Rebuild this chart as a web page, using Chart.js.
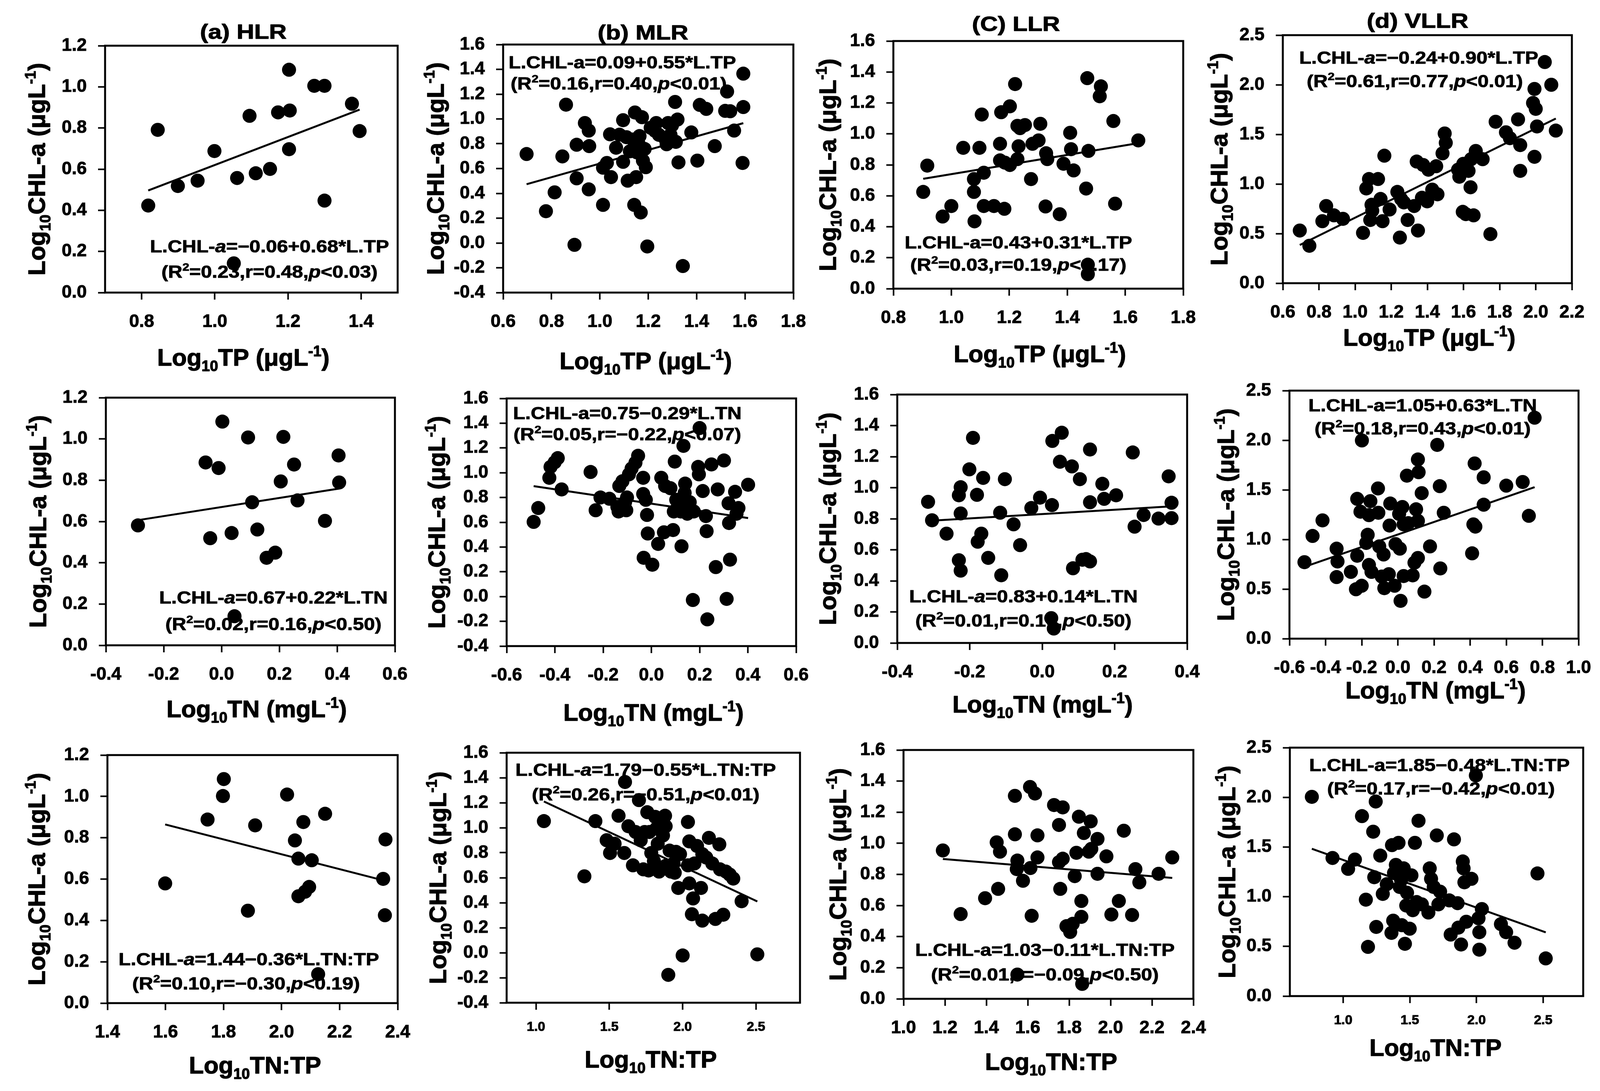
<!DOCTYPE html>
<html>
<head>
<meta charset="utf-8">
<script src="https://cdn.jsdelivr.net/npm/chart.js@4.4.1/dist/chart.umd.min.js"></script>
<style>
  html, body { margin: 0; padding: 0; background: #fff; overflow: hidden; }
  #page { position: relative; width: 4113px; height: 2793px; overflow: hidden; background: #fff; }
  #page canvas { position: absolute; }
</style>
</head>
<body>
<div id="page"></div>
<script>
// ---- data: [log10 x, log10 CHL-a] per lake group ----
const hlrTP = [[0.818,0.423],[0.844,0.791],[0.899,0.518],[0.953,0.544],[0.999,0.688],[1.061,0.557],[1.095,0.859],[1.112,0.580],[1.151,0.601],[1.173,0.876],[1.205,0.885],[1.203,1.083],[1.203,0.697],[1.272,1.005],[1.300,1.005],[1.300,0.447],[1.375,0.918],[1.396,0.785],[1.052,0.142]];
const mlrTP = [[0.697,0.717],[0.777,0.256],[0.813,0.408],[0.845,0.698],[0.860,1.115],[0.895,-0.015],[0.904,0.521],[0.904,0.792],[0.938,0.967],[0.954,0.906],[0.956,0.781],[0.954,0.432],[1.013,0.307],[1.013,0.607],[1.029,0.645],[1.042,0.876],[1.046,0.531],[1.067,0.768],[1.081,0.873],[1.096,0.990],[1.096,0.654],[1.110,0.853],[1.115,0.502],[1.124,0.739],[1.137,0.834],[1.142,0.307],[1.145,1.052],[1.150,0.531],[1.153,0.730],[1.158,0.815],[1.164,0.862],[1.169,0.246],[1.174,1.014],[1.178,0.664],[1.185,0.758],[1.190,0.611],[1.196,-0.028],[1.210,0.929],[1.228,0.904],[1.233,0.967],[1.244,0.872],[1.271,0.838],[1.276,0.796],[1.282,0.967],[1.292,0.872],[1.311,1.137],[1.314,0.815],[1.321,0.995],[1.325,0.650],[1.343,-0.186],[1.378,0.891],[1.403,0.664],[1.413,1.113],[1.440,1.081],[1.475,0.781],[1.518,1.065],[1.526,1.221],[1.539,1.062],[1.555,0.906],[1.593,1.365],[1.593,1.096],[1.590,0.645],[1.298,0.948]];
const llrTP = [[0.903,0.625],[0.917,0.795],[0.970,0.466],[1.000,0.534],[1.041,0.910],[1.078,0.708],[1.078,0.625],[1.080,0.435],[1.097,0.910],[1.105,1.125],[1.112,0.749],[1.112,0.534],[1.147,0.534],[1.168,0.936],[1.172,1.140],[1.183,0.516],[1.168,0.829],[1.185,0.814],[1.202,1.178],[1.202,0.799],[1.220,1.322],[1.228,1.052],[1.228,0.837],[1.232,0.920],[1.237,1.037],[1.254,1.057],[1.275,0.708],[1.280,0.936],[1.301,0.958],[1.307,1.065],[1.325,0.531],[1.327,0.875],[1.331,0.837],[1.374,0.481],[1.387,0.807],[1.410,1.007],[1.413,0.901],[1.422,0.764],[1.465,0.647],[1.469,1.360],[1.471,0.155],[1.471,0.094],[1.473,0.890],[1.516,1.307],[1.512,1.243],[1.559,1.083],[1.565,0.549],[1.645,0.958]];
const vllrTP = [[0.694,0.531],[0.747,0.377],[0.819,0.625],[0.840,0.778],[0.883,0.684],[0.933,0.649],[1.044,0.507],[1.062,0.955],[1.077,1.050],[1.084,0.637],[1.091,0.790],[1.095,0.731],[1.127,1.050],[1.141,0.849],[1.152,0.625],[1.162,1.285],[1.191,0.743],[1.234,0.920],[1.248,0.460],[1.255,0.849],[1.270,0.814],[1.291,0.637],[1.327,0.778],[1.341,1.226],[1.348,0.531],[1.370,0.861],[1.377,1.191],[1.399,0.825],[1.406,1.144],[1.427,0.943],[1.449,1.179],[1.456,0.896],[1.484,1.309],[1.496,1.509],[1.502,1.415],[1.570,1.144],[1.577,1.073],[1.596,0.719],[1.599,1.203],[1.613,0.696],[1.628,1.132],[1.639,0.967],[1.642,1.250],[1.656,0.684],[1.668,1.333],[1.706,1.250],[1.749,0.495],[1.778,1.627],[1.835,1.521],[1.857,1.462],[1.902,1.651],[1.914,1.392],[1.914,1.132],[1.993,1.274],[1.993,1.958],[1.985,1.816],[2.000,1.757],[2.007,1.580],[2.050,2.229],[2.086,2.000],[2.111,1.538]];

const hlrTN = [[-0.289,0.581],[-0.055,0.886],[-0.039,0.519],[-0.010,0.859],[0.003,1.084],[0.035,0.544],[0.045,0.141],[0.092,1.007],[0.106,0.693],[0.124,0.561],[0.156,0.424],[0.186,0.449],[0.205,0.794],[0.214,1.010],[0.251,0.876],[0.263,0.702],[0.358,0.603],[0.405,0.920],[0.407,0.789]];
const mlrTN = [[-0.488,0.603],[-0.469,0.715],[-0.423,0.959],[-0.418,1.047],[-0.401,1.084],[-0.388,1.118],[-0.372,0.865],[-0.252,1.006],[-0.231,0.697],[-0.211,0.800],[-0.174,0.790],[-0.141,0.725],[-0.136,0.687],[-0.133,0.893],[-0.120,0.931],[-0.109,0.762],[-0.104,0.697],[-0.101,0.800],[-0.093,0.987],[-0.082,1.034],[-0.066,1.081],[-0.055,1.137],[-0.034,0.959],[-0.034,0.828],[-0.023,0.781],[-0.032,0.313],[-0.018,0.659],[-0.015,0.509],[0.004,0.257],[0.028,0.425],[0.041,0.959],[0.052,0.519],[0.057,0.893],[0.079,0.875],[0.090,0.537],[0.093,0.687],[0.097,1.090],[0.103,0.781],[0.111,0.743],[0.122,0.687],[0.125,0.406],[0.133,1.217],[0.138,0.837],[0.140,0.912],[0.149,0.669],[0.159,0.762],[0.172,-0.028],[0.176,0.687],[0.194,1.047],[0.197,0.987],[0.200,1.361],[0.213,0.852],[0.226,0.650],[0.229,0.528],[0.232,-0.184],[0.249,1.067],[0.267,0.238],[0.275,0.865],[0.301,1.099],[0.312,-0.019],[0.320,0.753],[0.322,0.594],[0.326,0.298],[0.347,0.846],[0.361,0.715],[0.353,0.669],[0.401,0.903]];
const llrTN = [[-0.315,0.909],[-0.304,0.790],[-0.264,0.704],[-0.230,0.951],[-0.225,1.003],[-0.230,0.533],[-0.225,0.466],[-0.225,0.834],[-0.201,1.118],[-0.191,1.321],[-0.180,0.954],[-0.178,0.652],[-0.168,0.704],[-0.163,1.063],[-0.149,0.548],[-0.116,0.839],[-0.113,0.436],[-0.103,1.055],[-0.079,0.764],[-0.061,0.630],[-0.030,0.869],[-0.006,0.936],[0.027,0.888],[0.028,1.301],[0.054,1.354],[0.049,1.167],[0.082,1.137],[0.085,0.481],[0.104,1.055],[0.111,0.536],[0.121,0.540],[0.132,0.525],[0.132,0.906],[0.132,1.246],[0.166,1.025],[0.171,0.928],[0.204,0.951],[0.250,1.227],[0.255,0.749],[0.280,0.824],[0.321,0.801],[0.349,1.073],[0.357,0.903],[0.357,0.804],[0.025,0.160],[0.032,0.093]];
const vllrTN = [[-0.517,0.771],[-0.472,1.035],[-0.417,1.192],[-0.339,0.907],[-0.334,0.778],[-0.339,0.621],[-0.260,0.673],[-0.232,0.498],[-0.225,1.409],[-0.225,0.836],[-0.200,0.533],[-0.207,1.280],[-0.152,1.386],[-0.175,0.965],[-0.167,1.047],[-0.160,1.245],[-0.160,0.743],[-0.146,0.673],[-0.110,1.514],[-0.108,1.269],[-0.103,0.930],[-0.089,0.626],[-0.079,0.848],[-0.075,0.509],[-0.050,0.650],[-0.046,1.140],[-0.042,1.362],[-0.018,0.533],[-0.013,0.953],[0.007,1.257],[0.011,0.907],[0.015,0.381],[0.025,1.327],[0.032,1.152],[0.032,0.631],[0.050,1.643],[0.058,1.164],[0.082,0.638],[0.092,0.766],[0.101,1.304],[0.111,1.187],[0.111,1.806],[0.115,1.678],[0.111,0.813],[0.132,1.467],[0.147,0.474],[0.178,0.930],[0.218,1.953],[0.232,1.537],[0.235,0.708],[0.254,1.269],[0.411,0.860],[0.418,1.152],[0.429,1.129],[0.425,1.766],[0.475,1.350],[0.475,1.626],[0.600,1.542],[0.691,1.579],[0.725,1.238],[0.757,2.227],[-0.199,1.998]];

const hlrNP = [[1.599,0.579],[1.745,0.888],[1.801,1.084],[1.798,1.002],[1.884,0.447],[1.909,0.860],[2.019,1.009],[2.046,0.787],[2.058,0.699],[2.058,0.517],[2.075,0.876],[2.081,0.539],[2.095,0.562],[2.104,0.691],[2.126,0.140],[2.150,0.916],[2.350,0.601],[2.356,0.425],[2.358,0.792]];
const mlrNP = [[1.054,1.053],[1.330,0.611],[1.405,1.053],[1.482,0.900],[1.505,0.798],[1.536,0.872],[1.563,1.096],[1.602,0.798],[1.607,1.366],[1.630,1.012],[1.661,0.699],[1.679,0.966],[1.702,1.221],[1.714,0.900],[1.732,0.667],[1.759,1.124],[1.768,0.658],[1.773,0.966],[1.786,0.798],[1.804,0.733],[1.813,1.087],[1.821,0.994],[1.830,0.872],[1.839,0.649],[1.848,1.012],[1.866,0.938],[1.880,1.096],[1.884,0.695],[1.884,1.012],[1.902,-0.177],[1.911,0.817],[1.920,0.649],[1.938,0.714],[1.955,0.807],[1.970,0.518],[1.982,0.789],[2.000,-0.022],[2.036,0.699],[2.036,1.046],[2.045,0.555],[2.045,0.891],[2.063,0.308],[2.071,0.434],[2.080,0.714],[2.098,0.854],[2.125,0.518],[2.134,0.257],[2.134,0.789],[2.161,0.761],[2.179,0.919],[2.202,0.714],[2.223,0.270],[2.250,0.867],[2.255,0.667],[2.277,0.304],[2.295,0.649],[2.321,0.625],[2.345,0.593],[2.402,0.412],[2.509,-0.013],[1.741,0.966],[1.946,0.640]];
const llrNP = [[1.190,0.954],[1.276,0.545],[1.394,0.647],[1.450,1.006],[1.466,0.946],[1.457,0.707],[1.538,1.305],[1.538,1.058],[1.550,0.889],[1.547,0.834],[1.577,0.759],[1.611,1.362],[1.635,1.320],[1.613,0.841],[1.619,0.534],[1.647,1.051],[1.647,0.909],[1.727,1.246],[1.751,1.118],[1.769,1.231],[1.757,0.707],[1.751,0.879],[1.769,0.901],[1.787,0.467],[1.805,0.430],[1.817,0.482],[1.827,0.789],[1.835,0.939],[1.847,1.171],[1.859,0.527],[1.859,0.629],[1.863,0.096],[1.871,1.066],[1.895,0.946],[1.904,1.141],[1.907,0.964],[1.937,0.804],[1.937,1.028],[1.980,0.916],[2.004,0.542],[2.040,0.629],[2.064,1.081],[2.104,0.539],[2.120,0.834],[2.139,0.749],[2.232,0.804],[2.298,0.909],[1.550,0.156]];
const vllrNP = [[0.765,2.005],[0.920,1.390],[1.037,1.280],[1.088,1.374],[1.141,1.811],[1.170,0.970],[1.186,0.495],[1.225,1.654],[1.233,1.196],[1.248,0.696],[1.244,1.958],[1.278,1.414],[1.327,1.126],[1.366,1.519],[1.362,0.636],[1.375,0.759],[1.381,1.238],[1.395,1.320],[1.415,1.542],[1.424,1.098],[1.434,1.168],[1.440,0.713],[1.454,1.285],[1.463,0.526],[1.473,0.911],[1.479,1.040],[1.499,0.678],[1.512,1.215],[1.522,0.864],[1.538,1.542],[1.551,0.946],[1.565,1.764],[1.639,0.841],[1.649,1.285],[1.659,1.180],[1.679,1.098],[1.702,1.617],[1.714,0.923],[1.727,1.051],[1.796,0.963],[1.806,0.619],[1.831,1.577],[1.858,0.935],[1.864,0.689],[1.884,0.519],[1.897,1.355],[1.903,1.285],[1.909,1.145],[1.923,0.748],[1.962,1.180],[1.995,2.220],[2.015,0.783],[2.021,0.643],[2.021,0.467],[2.040,0.876],[2.183,0.724],[2.222,0.643],[2.285,0.537],[2.457,1.234],[2.519,0.379],[1.297,1.028],[1.590,0.923]];

// regression: L.CHL-a = fitA + fitB * x
const fitA = [-0.06, 0.09, 0.43, -0.24, 0.67, 0.75, 0.83, 1.05, 1.44, 1.79, 1.03, 1.85];
const fitB = [0.68, 0.55, 0.31, 0.90, 0.22, -0.29, 0.14, 0.63, -0.36, -0.55, -0.11, -0.48];

const eqText = [
  ['L.CHL-~{a}=−0.06+0.68*L.TP', '(R^{2}=0.23,r=0.48,~{p}<0.03)'],
  ['L.CHL-a=0.09+0.55*L.TP', '(R^{2}=0.16,r=0.40,~{p}<0.01)'],
  ['L.CHL-a=0.43+0.31*L.TP', '(R^{2}=0.03,r=0.19,~{p}<0.17)'],
  ['L.CHL-~{a}=−0.24+0.90*L.TP', '(R^{2}=0.61,r=0.77,~{p}<0.01)'],
  ['L.CHL-~{a}=0.67+0.22*L.TN', '(R^{2}=0.02,r=0.16,~{p}<0.50)'],
  ['L.CHL-a=0.75−0.29*L.TN', '(R^{2}=0.05,r=−0.22,~{p}<0.07)'],
  ['L.CHL-~{a}=0.83+0.14*L.TN', '(R^{2}=0.01,r=0.10,~{p}<0.50)'],
  ['L.CHL-a=1.05+0.63*L.TN', '(R^{2}=0.18,r=0.43,~{p}<0.01)'],
  ['L.CHL-~{a}=1.44−0.36*L.TN:TP', '(R^{2}=0.10,r=−0.30,~{p}<0.19)'],
  ['L.CHL-~{a}=1.79−0.55*L.TN:TP', '(R^{2}=0.26,r=−0.51,~{p}<0.01)'],
  ['L.CHL-a=1.03−0.11*L.TN:TP', '(R^{2}=0.01,r=−0.09,~{p}<0.50)'],
  ['L.CHL-a=1.85−0.48*L.TN:TP', '(R^{2}=0.17,r=−0.42,~{p}<0.01)']
];

const colTitles = ['(a) HLR', '(b) MLR', '(C) LLR', '(d) VLLR'];
const yTitle = 'Log_{10}CHL-a (μgL^{-1})';
const rowXTitles = ['Log_{10}TP (μgL^{-1})', 'Log_{10}TN (mgL^{-1})', 'Log_{10}TN:TP'];

// axes
const xRanges = [[0.7,1.5],[0.6,1.8],[0.8,1.8],[0.6,2.2],[-0.4,0.6],[-0.6,0.6],[-0.4,0.4],[-0.6,1.0],[1.4,2.4],[0.8,2.8],[1.0,2.4],[0.6,2.8]];
const yRanges = [[0,1.2],[-0.4,1.6],[0,1.6],[0,2.5],[0,1.2],[-0.4,1.6],[0,1.6],[0,2.5],[0,1.2],[-0.4,1.6],[0,1.6],[0,2.5]];
const xTicks = [
  [0.8,1.0,1.2,1.4],
  [0.6,0.8,1.0,1.2,1.4,1.6,1.8],
  [0.8,1.0,1.2,1.4,1.6,1.8],
  [0.6,0.8,1.0,1.2,1.4,1.6,1.8,2.0,2.2],
  [-0.4,-0.2,0.0,0.2,0.4,0.6],
  [-0.6,-0.4,-0.2,0.0,0.2,0.4,0.6],
  [-0.4,-0.2,0.0,0.2,0.4],
  [-0.6,-0.4,-0.2,0.0,0.2,0.4,0.6,0.8,1.0],
  [1.4,1.6,1.8,2.0,2.2,2.4],
  [1.0,1.5,2.0,2.5],
  [1.0,1.2,1.4,1.6,1.8,2.0,2.2,2.4],
  [1.0,1.5,2.0,2.5]
];
const yTicksA = [0.0,0.2,0.4,0.6,0.8,1.0,1.2];
const yTicksB = [-0.4,-0.2,0.0,0.2,0.4,0.6,0.8,1.0,1.2,1.4,1.6];
const yTicksC = [0.0,0.2,0.4,0.6,0.8,1.0,1.2,1.4,1.6];
const yTicksD = [0.0,0.5,1.0,1.5,2.0,2.5];
const yTicks = [yTicksA, yTicksB, yTicksC, yTicksD, yTicksA, yTicksB, yTicksC, yTicksD, yTicksA, yTicksB, yTicksC, yTicksD];

// ---- layout (page pixels) ----
const frames = [
  [269,117,1018,749],[1288,114,2038,749],[2287,105,3036,739],[3284,90,4031,725],
  [271,1018,1018,1652],[1297,1020,2045,1654],[2297,1010,3046,1646],[3301,1000,4048,1635],
  [275,1933,1025,2568],[1297,1927,2048,2567],[2313,1920,3062,2557],[3302,1914,4053,2550]
];
const titlePos = [[623,80],[1646,82],[2601,60],[3629,52]];
const yTitleX = [93,1114,2118,3120,96,1117,2118,3137,93,1120,2144,3140];
const xTitlePos = [[623,914],[1653,923],[2662,905],[3659,863],[657,1814],[1673,1823],[2669,1802],[3675,1766],[653,2726],[1666,2711],[2691,2717],[3675,2681]];
const eqPos = [
  [[690,630],[690,695]], [[1593,159],[1584,213]], [[2607,620],[2607,677]], [[3632,147],[3622,207]],
  [[700,1529],[700,1597]], [[1606,1057],[1606,1111]], [[2620,1526],[2620,1588]], [[3642,1037],[3642,1096]],
  [[637,2455],[630,2517]], [[1653,1970],[1653,2033]], [[2675,2431],[2675,2494]], [[3685,1958],[3689,2018]]
];
const xTickSize = [46,46,46,46,46,46,46,46,46,34,46,34];
const xTickPad = [30,30,30,30,30,30,30,30,30,24,30,24];

const series = [hlrTP, mlrTP, llrTP, vllrTP, hlrTN, mlrTN, llrTN, vllrTN, hlrNP, mlrNP, llrNP, vllrNP];

const FONT = '"Liberation Sans", Arial, sans-serif';
const ML = 260, MT = 150, MR = 55, MB = 250;

function parseRich(str) {
  const segs = [];
  let buf = '';
  for (let i = 0; i < str.length; i++) {
    const c = str[i];
    if ('_^~'.includes(c) && str[i + 1] === '{') {
      if (buf) { segs.push({ t: buf, k: '' }); buf = ''; }
      const end = str.indexOf('}', i);
      segs.push({ t: str.slice(i + 2, end), k: c });
      i = end;
    } else {
      buf += c;
    }
  }
  if (buf) segs.push({ t: buf, k: '' });
  return segs;
}

// text with sub/superscripts, centred on (x, y)
function drawRich(ctx, str, x, y, size, sx, rot) {
  const segs = parseRich(str);
  const fontOf = s => {
    const small = s.k === '_' || s.k === '^';
    return (s.k === '~' ? 'italic ' : '') + 'bold ' + Math.round(small ? size * 0.62 : size) + 'px ' + FONT;
  };
  ctx.save();
  let total = 0;
  segs.forEach(s => { ctx.font = fontOf(s); s.w = ctx.measureText(s.t).width; total += s.w; });
  ctx.translate(x, y);
  if (rot) ctx.rotate(-Math.PI / 2);
  ctx.scale(sx, 1);
  ctx.fillStyle = '#000';
  ctx.strokeStyle = '#000';
  ctx.lineWidth = size * 0.025;
  ctx.lineJoin = 'round';
  ctx.textAlign = 'left';
  ctx.textBaseline = 'alphabetic';
  let cx = -total / 2;
  const base = size * 0.36;
  segs.forEach(s => {
    ctx.font = fontOf(s);
    let dy = base;
    if (s.k === '_') dy += size * 0.22;
    if (s.k === '^') dy -= size * 0.40;
    ctx.fillText(s.t, cx, dy);
    ctx.strokeText(s.t, cx, dy);
    cx += s.w;
  });
  ctx.restore();
}

const page = document.getElementById('page');

series.forEach((pts, i) => {
  const [L, T, R, B] = frames[i];
  const ox = L - ML, oy = T - MT;
  const w = R - L + ML + MR, h = B - T + MT + MB;
  const cv = document.createElement('canvas');
  cv.width = w; cv.height = h;
  cv.style.left = ox + 'px'; cv.style.top = oy + 'px';
  cv.style.width = w + 'px'; cv.style.height = h + 'px';
  page.appendChild(cv);

  const xs = pts.map(p => p[0]);
  const x0 = Math.min(...xs), x1 = Math.max(...xs);
  const fitLine = [x0, x1].map(x => ({ x: x, y: fitA[i] + fitB[i] * x }));

  const panelText = {
    id: 'panelText' + i,
    beforeDatasetsDraw(chart) {
      const ctx = chart.ctx;
      eqText[i].forEach((s, k) => {
        drawRich(ctx, s, eqPos[i][k][0] - ox, eqPos[i][k][1] - oy, 45, 1.13, false);
      });
    },
    afterDraw(chart) {
      const { ctx, chartArea: a } = chart;
      ctx.save();
      ctx.strokeStyle = '#000';
      ctx.lineWidth = 5;
      ctx.strokeRect(a.left, a.top, a.right - a.left, a.bottom - a.top);
      ctx.restore();
      if (i < 4) drawRich(ctx, colTitles[i], titlePos[i][0] - ox, titlePos[i][1] - oy, 52, 1.2, false);
      drawRich(ctx, yTitle, yTitleX[i] - ox, (a.top + a.bottom) / 2, 62, 1.0, true);
      drawRich(ctx, rowXTitles[Math.floor(i / 4)], xTitlePos[i][0] - ox, xTitlePos[i][1] - oy, 62, 1.0, false);
    }
  };

  const tickFont = size => ({ family: FONT, size: size, weight: 'bold' });

  new Chart(cv, {
    type: 'scatter',
    data: {
      datasets: [
        {
          data: pts.map(p => ({ x: p[0], y: p[1] })),
          pointRadius: 18,
          pointHoverRadius: 18,
          pointBackgroundColor: '#000',
          pointBorderWidth: 0,
          showLine: false,
          clip: false
        },
        {
          data: fitLine,
          showLine: true,
          borderColor: '#000',
          borderWidth: 5,
          pointRadius: 0,
          fill: false,
          clip: false
        }
      ]
    },
    options: {
      responsive: false,
      animation: false,
      devicePixelRatio: 1,
      events: [],
      layout: { padding: { left: 0, top: MT, right: MR, bottom: 0 } },
      plugins: { legend: { display: false }, tooltip: { enabled: false } },
      scales: {
        x: {
          type: 'linear',
          min: xRanges[i][0],
          max: xRanges[i][1],
          afterBuildTicks: scale => { scale.ticks = xTicks[i].map(v => ({ value: v })); },
          afterFit: scale => { scale.height = MB; },
          ticks: {
            color: '#000',
            textStrokeColor: '#000',
            textStrokeWidth: 1.2,
            autoSkip: false,
            maxRotation: 0,
            minRotation: 0,
            padding: xTickPad[i],
            font: tickFont(xTickSize[i]),
            callback: v => Number(v).toFixed(1)
          },
          grid: { display: true, drawOnChartArea: false, drawTicks: true, tickLength: 18, tickWidth: 4, tickColor: '#000', color: '#000' },
          border: { display: false }
        },
        y: {
          type: 'linear',
          min: yRanges[i][0],
          max: yRanges[i][1],
          afterBuildTicks: scale => { scale.ticks = yTicks[i].map(v => ({ value: v })); },
          afterFit: scale => { scale.width = ML; },
          ticks: {
            color: '#000',
            textStrokeColor: '#000',
            textStrokeWidth: 1.2,
            autoSkip: false,
            padding: 29,
            font: tickFont(46),
            callback: v => Number(v).toFixed(1)
          },
          grid: { display: true, drawOnChartArea: false, drawTicks: true, tickLength: 18, tickWidth: 4, tickColor: '#000', color: '#000' },
          border: { display: false }
        }
      }
    },
    plugins: [panelText]
  });
});
</script>
</body>
</html>
